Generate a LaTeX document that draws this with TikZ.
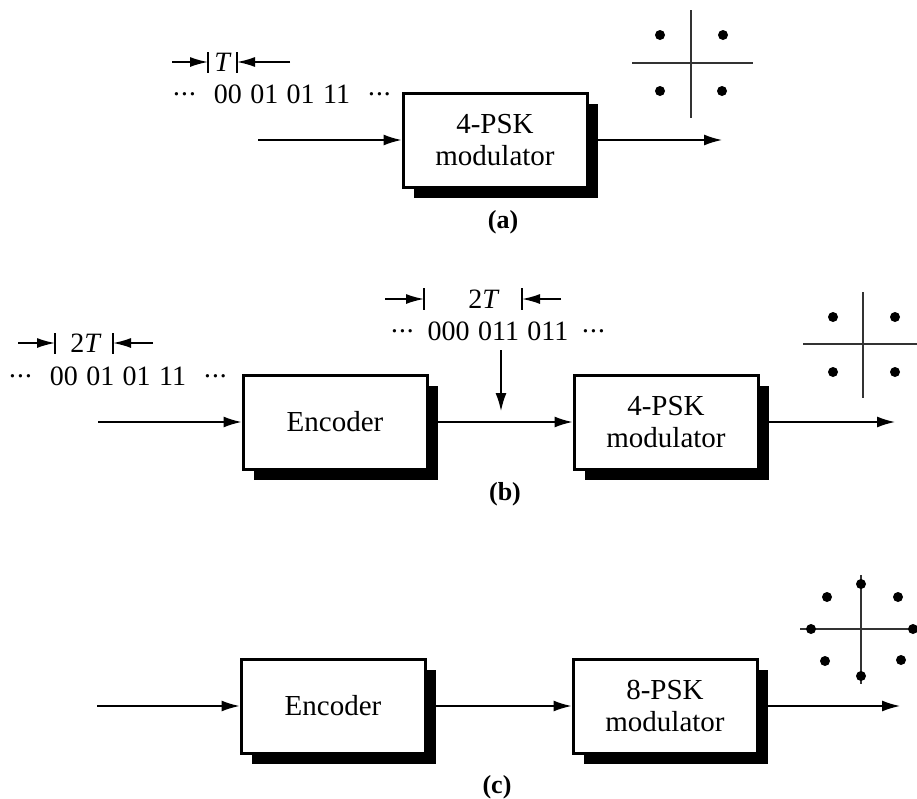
\documentclass[tikz,border=0pt]{standalone}
\usepackage{fontspec}
\setmainfont{Liberation Serif}
\usetikzlibrary{arrows.meta,shadows}
\newcommand{\dts}{\textperiodcentered\kern-0.05em\textperiodcentered\kern-0.05em\textperiodcentered}
\begin{document}
\begin{tikzpicture}[x=0.5pt,y=-0.5pt,
  blockbox/.style={draw, line width=1.5pt, fill=white, minimum width=92pt, minimum height=47pt, inner sep=0pt, align=center,
    font=\fontsize{14.5}{16}\selectfont,
    drop shadow={shadow xshift=5.5pt, shadow yshift=-5.5pt, fill=black, opacity=1}},
  conn/.style={line width=0.75pt, -{Latex[length=9pt,width=5.5pt]}},
  dimarr/.style={line width=0.8pt, -{Latex[length=9pt,width=5pt]}},
  tickbar/.style={line width=0.9pt},
  txt/.style={font=\fontsize{14}{15}\selectfont, inner sep=0pt},
  captxt/.style={font=\fontsize{13}{15}\selectfont\bfseries, inner sep=0pt},
  axline/.style={line width=1pt, draw=black!80},
  sigpt/.style={circle, fill=black, inner sep=0pt, minimum size=5pt}]
\useasboundingbox (0,0) rectangle (917,799);

% ---------------- (a) ----------------
\node[blockbox] (mA) at (495,140) {4-PSK\\modulator};
\coordinate (inA) at (258,140);
\coordinate (outA) at (722,140);
\draw[conn] (inA) -- (mA.west);
\draw[conn] (mA.east) -- (outA);
\node[txt] (dA) at (282,94) {\dts\hspace{0.6em}00\hspace{0.3em}01\hspace{0.3em}01\hspace{0.3em}11\hspace{0.6em}\dts};
\coordinate (a1) at (172,62); \coordinate (a2) at (208,62);
\coordinate (a3) at (237,62); \coordinate (a4) at (290,62);
\draw[dimarr] (a1) -- (a2);
\draw[dimarr] (a4) -- (a3);
\draw[tickbar] (208,52) -- (208,73);
\draw[tickbar] (237,52) -- (237,73);
\node[txt] (tA) at (223,62) {\textit{T}};
\node[captxt] (capA) at (503,222) {(a)};
% constellation a
\draw[axline] (632,63) -- (753,63);
\draw[axline] (691,10) -- (691,118);
\node[sigpt] (pa1) at (660,35) {};
\node[sigpt] (pa2) at (723,35) {};
\node[sigpt] (pa3) at (660,91) {};
\node[sigpt] (pa4) at (722,91) {};

% ---------------- (b) ----------------
\node[blockbox] (encB) at (335,422) {Encoder};
\node[blockbox] (mB) at (666,422) {4-PSK\\modulator};
\coordinate (inB) at (98,422);
\coordinate (outB) at (895,422);
\draw[conn] (inB) -- (encB.west);
\draw[conn] (encB.east) -- (mB.west);
\draw[conn] (mB.east) -- (outB);
\coordinate (dn1) at (501,350); \coordinate (dn2) at (501,411);
\draw[conn] (dn1) -- (dn2);
\node[txt] (dB1) at (118,376) {\dts\hspace{0.6em}00\hspace{0.3em}01\hspace{0.3em}01\hspace{0.3em}11\hspace{0.6em}\dts};
\node[txt] (dB2) at (498,331) {\dts\hspace{0.45em}000\hspace{0.3em}011\hspace{0.3em}011\hspace{0.45em}\dts};
% dimension left
\coordinate (b1) at (18,343); \coordinate (b2) at (55,343);
\coordinate (b3) at (113,343); \coordinate (b4) at (153,343);
\draw[dimarr] (b1) -- (b2);
\draw[dimarr] (b4) -- (b3);
\draw[tickbar] (55,333) -- (55,354);
\draw[tickbar] (113,333) -- (113,354);
\node[txt] (tB1) at (86,343) {2\textit{T}};
% dimension middle
\coordinate (c1) at (385,299); \coordinate (c2) at (424,299);
\coordinate (c3) at (522,299); \coordinate (c4) at (561,299);
\draw[dimarr] (c1) -- (c2);
\draw[dimarr] (c4) -- (c3);
\draw[tickbar] (424,288) -- (424,310);
\draw[tickbar] (522,288) -- (522,310);
\node[txt] (tB2) at (484,299) {2\textit{T}};
\node[captxt] (capB) at (505,494) {(b)};
% constellation b
\draw[axline] (803,344) -- (917,344);
\draw[axline] (863,292) -- (863,398);
\node[sigpt] (pb1) at (833,317) {};
\node[sigpt] (pb2) at (895,317) {};
\node[sigpt] (pb3) at (833,372) {};
\node[sigpt] (pb4) at (895,372) {};

% ---------------- (c) ----------------
\node[blockbox] (encC) at (333,706) {Encoder};
\node[blockbox] (mC) at (665,706) {8-PSK\\modulator};
\coordinate (inC) at (97,706);
\coordinate (outC) at (900,706);
\draw[conn] (inC) -- (encC.west);
\draw[conn] (encC.east) -- (mC.west);
\draw[conn] (mC.east) -- (outC);
\node[captxt] (capC) at (497,787) {(c)};
% constellation c
\draw[axline] (800,629) -- (917,629);
\draw[axline] (861,575) -- (861,684);
\node[sigpt] (pc1) at (861,584) {};
\node[sigpt] (pc2) at (861,676) {};
\node[sigpt] (pc3) at (811,629) {};
\node[sigpt] (pc4) at (913,629) {};
\node[sigpt] (pc5) at (827,597) {};
\node[sigpt] (pc6) at (898,597) {};
\node[sigpt] (pc7) at (825,661) {};
\node[sigpt] (pc8) at (901,660) {};
\end{tikzpicture}
\end{document}
